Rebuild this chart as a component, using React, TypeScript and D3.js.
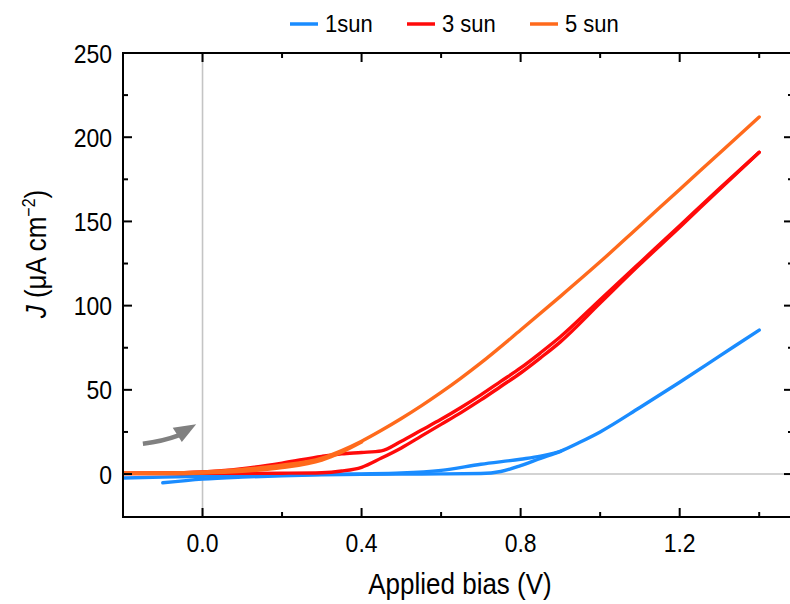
import React from "react";
import * as d3 from "d3";

// 1 sun (blue)
const bias1Fwd = [-0.1, 0.0, 0.1, 0.2, 0.3, 0.4, 0.5, 0.6, 0.7, 0.75, 0.8, 0.85, 0.9, 0.95, 1.0, 1.1, 1.2, 1.3, 1.4];
const j1Fwd = [-5.2, -3.0, -1.8, -1.0, -0.5, -0.2, 0.0, 0.1, 0.3, 1.5, 5.0, 9.3, 13.5, 19.0, 25.0, 39.5, 54.5, 70.0, 85.5];
const bias1Rev = [-0.2, -0.1, 0.0, 0.1, 0.2, 0.3, 0.4, 0.5, 0.6, 0.7, 0.8, 0.85, 0.9];
const j1Rev = [-2.3, -1.8, -1.3, -0.8, -0.5, -0.2, 0.1, 0.6, 2.2, 5.8, 8.8, 10.6, 13.5];

// 3 sun (red)
const bias3Fwd = [-0.2, -0.1, 0.0, 0.1, 0.2, 0.3, 0.35, 0.4, 0.45, 0.5, 0.55, 0.6, 0.65, 0.7, 0.75, 0.8, 0.85, 0.9, 1.0, 1.1, 1.2, 1.3, 1.4];
const j3Fwd = [0.5, 0.6, 1.2, 3.2, 6.5, 10.5, 12.0, 12.8, 13.8, 19.5, 26.0, 32.5, 39.5, 47.0, 55.0, 63.0, 72.0, 81.5, 103.5, 125.5, 147.5, 169.5, 191.0];
const bias3Rev = [-0.2, -0.1, 0.0, 0.1, 0.2, 0.3, 0.35, 0.4, 0.45, 0.5, 0.55, 0.6, 0.65, 0.7, 0.75, 0.8, 0.85, 0.9, 1.0, 1.1, 1.2, 1.3, 1.4];
const j3Rev = [0.3, 0.3, 0.4, 0.4, 0.5, 0.8, 1.8, 4.0, 9.5, 15.5, 22.5, 29.5, 36.5, 44.0, 52.0, 60.0, 69.0, 78.5, 101.5, 124.5, 146.5, 169.0, 191.0];

// 5 sun (orange)
const bias5Fwd = [-0.2, -0.1, 0.0, 0.1, 0.2, 0.3, 0.35, 0.4, 0.45, 0.5, 0.55, 0.6, 0.65, 0.7, 0.8, 0.9, 1.0, 1.1, 1.2, 1.3, 1.4];
const j5Fwd = [0.6, 0.7, 1.3, 2.8, 5.2, 9.5, 14.0, 19.5, 26.0, 33.0, 40.5, 48.5, 57.0, 66.0, 85.5, 105.5, 126.0, 147.5, 169.0, 190.5, 212.0];
const bias5Rev = [-0.2, -0.1, 0.0, 0.1, 0.2, 0.3, 0.35, 0.4];
const j5Rev = [0.3, 0.3, 0.6, 1.6, 3.8, 8.3, 13.0, 19.0];

const seriesNames = ["1sun", "3 sun", "5 sun"];
const seriesColors = ["#1a8cff", "#ff0a0a", "#ff6a1c"];

const xMajorTicks = [0.0, 0.4, 0.8, 1.2];
const xMinorTicks = [0.2, 0.6, 1.0, 1.4];
const yMajorTicks = [0, 50, 100, 150, 200, 250];
const yMinorTicks = [25, 75, 125, 175, 225];

const FONT = "'Liberation Sans', Arial, Helvetica, sans-serif";
const SY = 1.15;

export default function App() {
  const L = 123, R = 793, T = 53, B = 517;
  const x = d3.scaleLinear().domain([-0.2, 1.485]).range([L, R]);
  const y = d3.scaleLinear().domain([-25.5, 250]).range([B, T]);

  const line = d3
    .line<[number, number]>()
    .x((d) => x(d[0]))
    .y((d) => y(d[1]))
    .curve(d3.curveMonotoneX);

  const zip = (a: number[], b: number[]) => a.map((v, i) => [v, b[i]] as [number, number]);

  const branches = [
    { c: 0, d: zip(bias1Rev, j1Rev) },
    { c: 0, d: zip(bias1Fwd, j1Fwd) },
    { c: 1, d: zip(bias3Rev, j3Rev) },
    { c: 1, d: zip(bias3Fwd, j3Fwd) },
    { c: 2, d: zip(bias5Rev, j5Rev) },
    { c: 2, d: zip(bias5Fwd, j5Fwd) },
  ];

  const majorLen = 9, minorLen = 5;

  // arrow annotation in data coords
  const ax0 = x(-0.15), ay0 = y(18.0);
  const ax1 = x(-0.06), ay1 = y(23.0);
  const tip = [x(-0.016), y(29.5)];
  const b1 = [x(-0.075), y(27.5)];
  const b2 = [x(-0.052), y(19.0)];

  const legendX = [290, 407, 530];

  return (
    <svg
      width={790}
      height={604}
      style={{ position: "absolute", left: 0, top: 0, background: "#fff" }}
      fontFamily={FONT}
    >
      <defs>
        <clipPath id="plotclip">
          <rect x={L} y={T} width={R - L} height={B - T} />
        </clipPath>
      </defs>
      <rect x={0} y={0} width={790} height={604} fill="#fff" />

      {/* reference lines */}
      <line x1={x(0)} x2={x(0)} y1={T} y2={B} stroke="#c4c4c4" strokeWidth={1.6} />
      <line x1={L} x2={R} y1={y(0)} y2={y(0)} stroke="#c4c4c4" strokeWidth={1.6} />

      {/* arrow */}
      <path
        d={`M${ax0},${ay0} Q${x(-0.1)},${y(19.5)} ${ax1},${ay1}`}
        fill="none"
        stroke="#808080"
        strokeWidth={4.5}
      />
      <path d={`M${tip[0]},${tip[1]} L${b1[0]},${b1[1]} L${b2[0]},${b2[1]} Z`} fill="#808080" />

      {/* curves */}
      <g clipPath="url(#plotclip)">
        {branches.map((b, i) => (
          <path
            key={i}
            d={line(b.d) || ""}
            fill="none"
            stroke={seriesColors[b.c]}
            strokeWidth={3.4}
            strokeLinecap="round"
            strokeLinejoin="round"
          />
        ))}
      </g>

      {/* frame */}
      <rect x={L} y={T} width={R - L} height={B - T} fill="none" stroke="#000" strokeWidth={2} />

      {/* x ticks */}
      {xMajorTicks.map((t) => (
        <g key={"xM" + t}>
          <line x1={x(t)} x2={x(t)} y1={B} y2={B - majorLen} stroke="#000" strokeWidth={2} />
          <line x1={x(t)} x2={x(t)} y1={T} y2={T + majorLen} stroke="#000" strokeWidth={2} />
          <text transform={`translate(${x(t)},552) scale(1,${SY})`} textAnchor="middle" fontSize={23} fill="#000">
            {t.toFixed(1)}
          </text>
        </g>
      ))}
      {xMinorTicks.map((t) => (
        <g key={"xm" + t}>
          <line x1={x(t)} x2={x(t)} y1={B} y2={B - minorLen} stroke="#000" strokeWidth={2} />
          <line x1={x(t)} x2={x(t)} y1={T} y2={T + minorLen} stroke="#000" strokeWidth={2} />
        </g>
      ))}

      {/* y ticks */}
      {yMajorTicks.map((t) => (
        <g key={"yM" + t}>
          <line x1={L} x2={L + majorLen} y1={y(t)} y2={y(t)} stroke="#000" strokeWidth={2} />
          <line x1={R} x2={R - majorLen} y1={y(t)} y2={y(t)} stroke="#000" strokeWidth={2} />
          <text
            transform={`translate(112,${y(t) + 9.5}) scale(1,${SY})`}
            textAnchor="end"
            fontSize={23}
            fill="#000"
          >
            {t}
          </text>
        </g>
      ))}
      {yMinorTicks.map((t) => (
        <g key={"ym" + t}>
          <line x1={L} x2={L + minorLen} y1={y(t)} y2={y(t)} stroke="#000" strokeWidth={2} />
          <line x1={R} x2={R - minorLen} y1={y(t)} y2={y(t)} stroke="#000" strokeWidth={2} />
        </g>
      ))}

      {/* axis titles */}
      <text transform={`translate(460,594) scale(1,${SY})`} textAnchor="middle" fontSize={26} fill="#000">
        Applied bias (V)
      </text>
      <text transform={`translate(46,254) rotate(-90) scale(1,${SY})`} textAnchor="middle" fontSize={26} fill="#000">
        <tspan fontStyle="italic">J</tspan>
        <tspan> (μA cm</tspan>
        <tspan fontSize={16} dy={-10}>−2</tspan>
        <tspan dy={10}>)</tspan>
      </text>

      {/* legend */}
      {seriesNames.map((n, i) => (
        <g key={n}>
          <line x1={legendX[i]} x2={legendX[i] + 28} y1={24} y2={24} stroke={seriesColors[i]} strokeWidth={3.5} />
          <text transform={`translate(${legendX[i] + 35},32) scale(1,1.08)`} fontSize={22} fill="#000">
            {n}
          </text>
        </g>
      ))}
    </svg>
  );
}
